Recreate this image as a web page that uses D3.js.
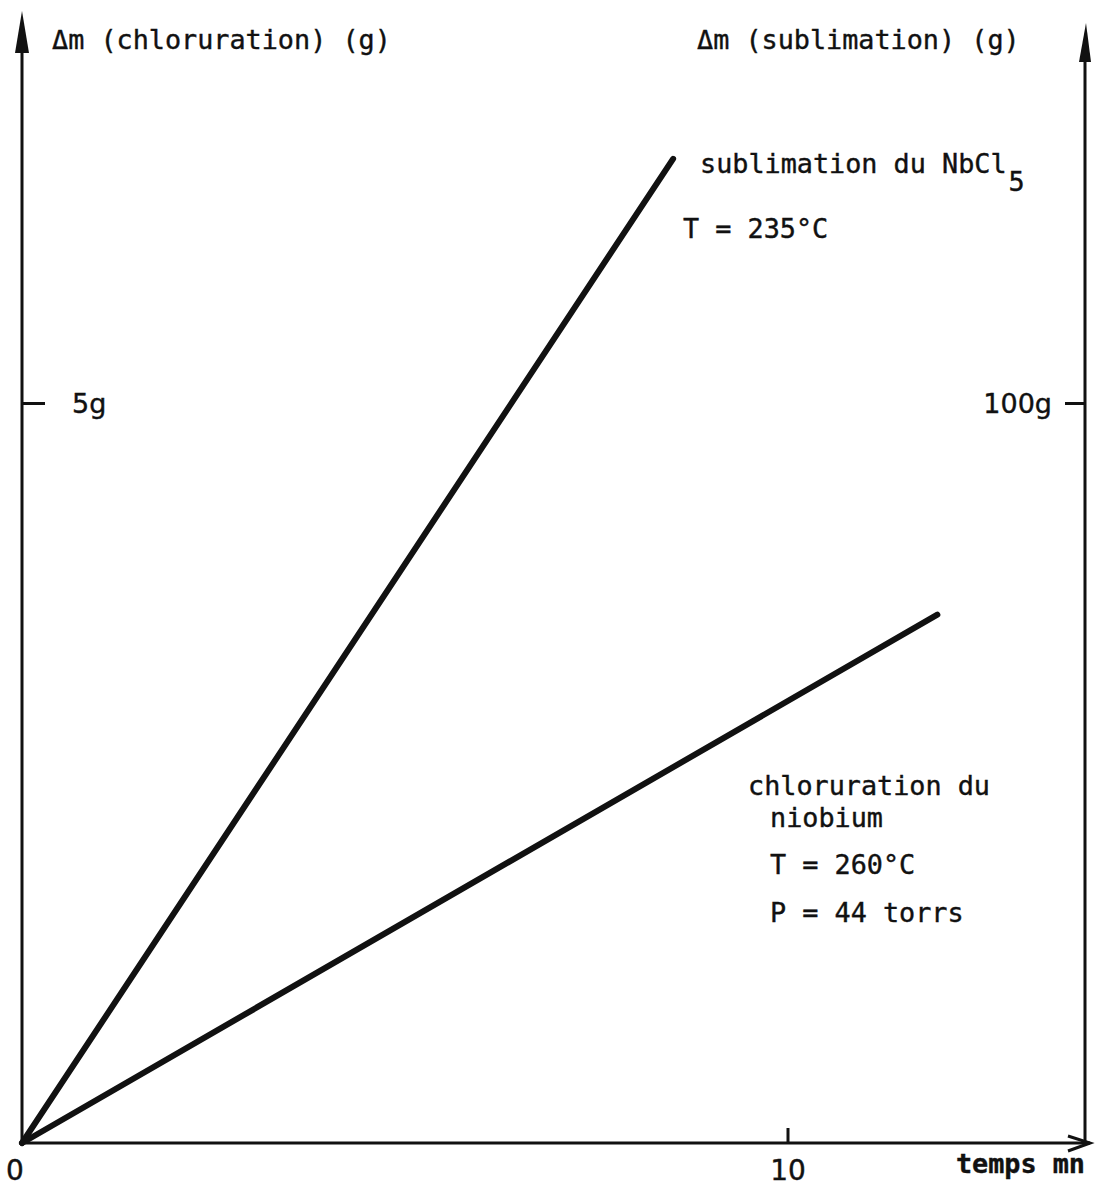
<!DOCTYPE html>
<html>
<head>
<meta charset="utf-8">
<script src="https://cdn.jsdelivr.net/npm/d3@7"></script>
<style>
  body { margin: 0; background: #fff; }
  text { font-family: "DejaVu Sans Mono", "Liberation Mono", monospace; fill: #111; stroke: #111; stroke-width: 0.4px; }
  .num { font-family: "DejaVu Sans", "Liberation Sans", sans-serif; }
</style>
</head>
<body>
<div id="chart"></div>
<script>
// data
const timeTicks = [0, 10]                 // temps (mn)
const leftTicks = [5]                     // Δm chloruration (g)
const rightTicks = [100]                  // Δm sublimation (g)
const sublimationT = [0, 8.5]
const sublimationM = [0, 133]
const chlorurationT = [0, 11.95]
const chlorurationM = [0, 3.57]

const width = 1102, height = 1187
const x0 = 22, y0 = 1143, xRight = 1085
const fs = 26.8

const x = d3.scaleLinear().domain([0, 10]).range([x0, 788])
const yL = d3.scaleLinear().domain([0, 5]).range([y0, 403])
const yR = d3.scaleLinear().domain([0, 100]).range([y0, 403])

const svg = d3.select("#chart").append("svg")
  .attr("width", width)
  .attr("height", height)
  .attr("viewBox", [0, 0, width, height])

const ink = "#111"

// left axis (ticks pointing inward)
const gl = svg.append("g")
  .attr("transform", `translate(${x0},0)`)
  .call(d3.axisRight(yL).tickValues(leftTicks).tickSize(23).tickPadding(27)
    .tickFormat(d => d + "g"))
gl.select(".domain").remove()
gl.selectAll(".tick line").attr("stroke", ink).attr("stroke-width", 3)
gl.selectAll(".tick text").attr("class", "num").attr("font-size", 27).attr("dy", "0.36em")
  .attr("fill", ink)
svg.append("line").attr("x1", x0).attr("x2", x0).attr("y1", y0).attr("y2", 40)
  .attr("stroke", ink).attr("stroke-width", 3)
svg.append("path").attr("d", `M${x0},11 L${x0 - 7},53 L${x0 + 7},53 Z`).attr("fill", ink)

// right axis
const gr = svg.append("g")
  .attr("transform", `translate(${xRight},0)`)
  .call(d3.axisLeft(yR).tickValues(rightTicks).tickSize(20).tickPadding(13)
    .tickFormat(d => d + "g"))
gr.select(".domain").remove()
gr.selectAll(".tick line").attr("stroke", ink).attr("stroke-width", 3)
gr.selectAll(".tick text").attr("class", "num").attr("font-size", 27).attr("dy", "0.36em")
  .attr("fill", ink)
svg.append("line").attr("x1", xRight).attr("x2", xRight).attr("y1", y0).attr("y2", 50)
  .attr("stroke", ink).attr("stroke-width", 3)
svg.append("path").attr("d", `M${xRight + 1},23 L${xRight - 6},62 L${xRight + 6},62 Z`).attr("fill", ink)

// x axis
svg.append("line").attr("x1", x0).attr("x2", 1090).attr("y1", y0).attr("y2", y0)
  .attr("stroke", ink).attr("stroke-width", 3)
svg.append("path").attr("d", `M1068,1136 L1090,${y0} L1068,1151`)
  .attr("fill", "none").attr("stroke", ink).attr("stroke-width", 3)
svg.selectAll(".xtick").data(timeTicks.filter(d => d > 0)).join("line")
  .attr("x1", d => x(d)).attr("x2", d => x(d))
  .attr("y1", y0).attr("y2", 1128)
  .attr("stroke", ink).attr("stroke-width", 3)
svg.selectAll(".xlabel").data(timeTicks).join("text")
  .attr("class", "num")
  .attr("x", d => d === 0 ? 15 : x(d))
  .attr("y", 1180)
  .attr("text-anchor", "middle")
  .attr("font-size", 28)
  .text(d => d)
svg.append("text").attr("x", 1085).attr("y", 1173).attr("text-anchor", "end")
  .attr("font-size", fs).attr("font-weight", "bold").text("temps mn")

// axis titles
svg.append("text").attr("x", 52).attr("y", 49).attr("font-size", fs)
  .text("Δm (chloruration) (g)")
svg.append("text").attr("x", 697).attr("y", 49).attr("font-size", fs)
  .text("Δm (sublimation) (g)")

// lines
const lineR = d3.line().x(d => x(d[0])).y(d => yR(d[1]))
const lineL = d3.line().x(d => x(d[0])).y(d => yL(d[1]))
svg.append("path")
  .attr("d", lineR(d3.zip(sublimationT, sublimationM)))
  .attr("fill", "none").attr("stroke", ink).attr("stroke-width", 6)
  .attr("stroke-linecap", "round")
svg.append("path")
  .attr("d", lineL(d3.zip(chlorurationT, chlorurationM)))
  .attr("fill", "none").attr("stroke", ink).attr("stroke-width", 6)
  .attr("stroke-linecap", "round")

// annotations
const sub = svg.append("text").attr("x", 700).attr("y", 173).attr("font-size", fs)
sub.append("tspan").text("sublimation du NbCl")
sub.append("tspan").attr("dy", 18).attr("dx", 2).text("5")
svg.append("text").attr("x", 683).attr("y", 238).attr("font-size", fs).text("T = 235°C")

svg.append("text").attr("x", 748).attr("y", 795).attr("font-size", fs).text("chloruration du")
svg.append("text").attr("x", 770).attr("y", 827).attr("font-size", fs).text("niobium")
svg.append("text").attr("x", 770).attr("y", 874).attr("font-size", fs).text("T = 260°C")
svg.append("text").attr("x", 770).attr("y", 922).attr("font-size", fs).text("P = 44 torrs")
</script>
</body>
</html>
